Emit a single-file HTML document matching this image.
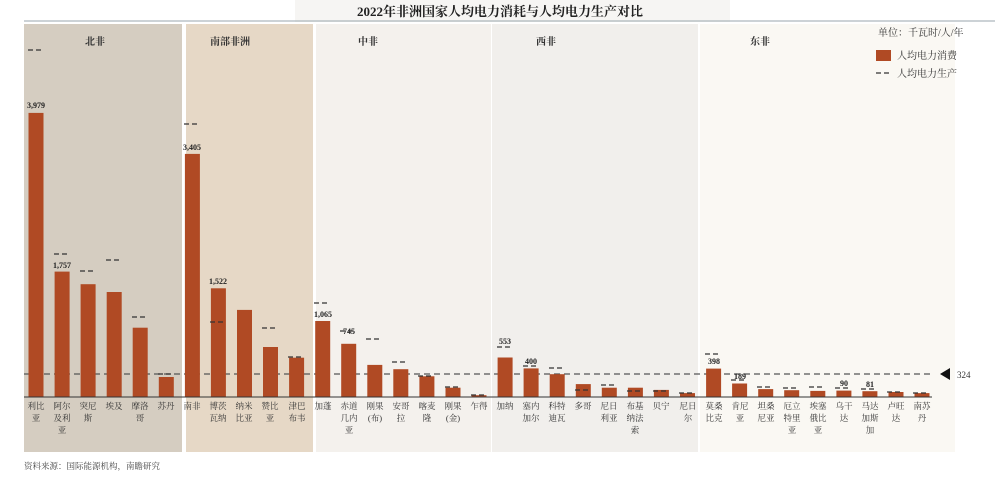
<!DOCTYPE html>
<html><head><meta charset="utf-8"><style>
body{margin:0;background:#fff;width:1000px;height:473px;overflow:hidden}
svg text{font-family:"Liberation Serif","Noto Serif CJK SC",serif}
</style></head><body>
<svg width="1000" height="473" viewBox="0 0 1000 473" xmlns="http://www.w3.org/2000/svg">
<rect x="0" y="0" width="1000" height="473" fill="#fff"/>
<rect x="295" y="0" width="435" height="22" fill="#f6f5f3"/>
<text x="500" y="16" font-size="13" font-weight="bold" text-anchor="middle" fill="#222">2022年非洲国家人均电力消耗与人均电力生产对比</text>
<line x1="24" y1="21" x2="995" y2="21" stroke="#9aa6ad" stroke-width="1"/>
<!-- panels -->
<rect x="24" y="24" width="158" height="428" fill="#d5cdc1"/>
<rect x="186" y="24" width="127" height="428" fill="#e6d8c6"/>
<rect x="316" y="24" width="175" height="428" fill="#f4f1ed"/>
<rect x="492" y="24" width="206" height="428" fill="#f1efec"/>
<rect x="700" y="24" width="255" height="428" fill="#faf8f3"/>
<g font-size="10" font-weight="bold" fill="#333" text-anchor="middle">
<text x="95" y="45">北非</text><text x="230" y="45">南部非洲</text><text x="368" y="45">中非</text><text x="546" y="45">西非</text><text x="760" y="45">东非</text>
</g>
<text x="878" y="36" font-size="10" fill="#333">单位：千瓦时/人/年</text>
<rect x="876" y="50" width="15" height="11" fill="#b04a24"/>
<text x="897" y="59" font-size="10" fill="#333">人均电力消费</text>
<line x1="876" y1="73" x2="892" y2="73" stroke="#333" stroke-width="1.2" stroke-dasharray="5,3"/>
<text x="897" y="77" font-size="10" fill="#333">人均电力生产</text>
<!-- ref line -->
<line x1="24" y1="374" x2="930" y2="374" stroke="#555" stroke-width="1.2" stroke-dasharray="6,4"/>
<polygon points="940,374 950,368 950,380" fill="#111"/>
<text x="957" y="378" font-size="9" fill="#333">324</text>
<!-- bars -->
<g fill="#b04a24">
<rect x="28.5" y="112.9" width="15" height="284.1"/>
<rect x="54.6" y="271.6" width="15" height="125.4"/>
<rect x="80.6" y="284.2" width="15" height="112.8"/>
<rect x="106.7" y="292" width="15" height="105"/>
<rect x="132.7" y="327.7" width="15" height="69.3"/>
<rect x="158.8" y="377" width="15" height="20"/>
<rect x="184.9" y="153.9" width="15" height="243.1"/>
<rect x="210.9" y="288.3" width="15" height="108.7"/>
<rect x="237" y="309.9" width="15" height="87.1"/>
<rect x="263" y="347" width="15" height="50"/>
<rect x="289.1" y="357.7" width="15" height="39.3"/>
<rect x="315.2" y="321" width="15" height="76"/>
<rect x="341.2" y="343.8" width="15" height="53.2"/>
<rect x="367.3" y="364.9" width="15" height="32.1"/>
<rect x="393.3" y="369.2" width="15" height="27.8"/>
<rect x="419.4" y="376.3" width="15" height="20.7"/>
<rect x="445.5" y="387.7" width="15" height="9.3"/>
<rect x="471.5" y="395.2" width="15" height="1.8"/>
<rect x="497.6" y="357.5" width="15" height="39.5"/>
<rect x="523.6" y="368.4" width="15" height="28.6"/>
<rect x="549.7" y="374.2" width="15" height="22.8"/>
<rect x="575.8" y="384.1" width="15" height="12.9"/>
<rect x="601.8" y="387.7" width="15" height="9.3"/>
<rect x="627.9" y="387.7" width="15" height="9.3"/>
<rect x="653.9" y="389.9" width="15" height="7.1"/>
<rect x="680" y="393.1" width="15" height="3.9"/>
<rect x="706.1" y="368.6" width="15" height="28.4"/>
<rect x="732.1" y="383.5" width="15" height="13.5"/>
<rect x="758.2" y="389.1" width="15" height="7.9"/>
<rect x="784.2" y="390.2" width="15" height="6.8"/>
<rect x="810.3" y="390.9" width="15" height="6.1"/>
<rect x="836.4" y="390.6" width="15" height="6.4"/>
<rect x="862.4" y="391.2" width="15" height="5.8"/>
<rect x="888.5" y="392" width="15" height="5"/>
<rect x="914.5" y="393.1" width="15" height="3.9"/>
</g>
<!-- production dashes -->
<g stroke="#333" stroke-width="1.2" stroke-dasharray="5,3">
<line x1="28" y1="50" x2="44" y2="50"/>
<line x1="54" y1="254" x2="70" y2="254"/>
<line x1="80" y1="271" x2="96" y2="271"/>
<line x1="106" y1="260" x2="122" y2="260"/>
<line x1="132" y1="317" x2="148" y2="317"/>
<line x1="158" y1="374" x2="174" y2="374"/>
<line x1="184" y1="124" x2="200" y2="124"/>
<line x1="210" y1="322" x2="226" y2="322"/>
<line x1="262" y1="328" x2="278" y2="328"/>
<line x1="288" y1="357" x2="304" y2="357"/>
<line x1="314" y1="303" x2="330" y2="303"/>
<line x1="340" y1="331" x2="356" y2="331"/>
<line x1="366" y1="339" x2="382" y2="339"/>
<line x1="392" y1="362" x2="408" y2="362"/>
<line x1="418" y1="376" x2="434" y2="376"/>
<line x1="445" y1="387" x2="461" y2="387"/>
<line x1="471" y1="395" x2="487" y2="395"/>
<line x1="497" y1="347" x2="513" y2="347"/>
<line x1="523" y1="366" x2="539" y2="366"/>
<line x1="549" y1="368" x2="565" y2="368"/>
<line x1="575" y1="390" x2="591" y2="390"/>
<line x1="601" y1="385" x2="617" y2="385"/>
<line x1="627" y1="391" x2="643" y2="391"/>
<line x1="653" y1="391" x2="669" y2="391"/>
<line x1="679" y1="393" x2="695" y2="393"/>
<line x1="705" y1="354" x2="721" y2="354"/>
<line x1="731" y1="380" x2="747" y2="380"/>
<line x1="757" y1="387" x2="773" y2="387"/>
<line x1="783" y1="388" x2="799" y2="388"/>
<line x1="809" y1="387" x2="825" y2="387"/>
<line x1="835" y1="388" x2="851" y2="388"/>
<line x1="861" y1="389" x2="877" y2="389"/>
<line x1="887" y1="392" x2="903" y2="392"/>
<line x1="913" y1="393" x2="929" y2="393"/>
</g>
<!-- value labels -->
<g font-size="8" font-weight="bold" fill="#222" text-anchor="middle" font-family="Liberation Sans,sans-serif">
<text x="36" y="108">3,979</text>
<text x="62" y="268">1,757</text>
<text x="192" y="150">3,405</text>
<text x="218" y="284">1,522</text>
<text x="323" y="317">1,065</text>
<text x="349" y="334">745</text>
<text x="505" y="344">553</text>
<text x="531" y="364">400</text>
<text x="714" y="364">398</text>
<text x="740" y="379">189</text>
<text x="844" y="386">90</text>
<text x="870" y="387">81</text>
</g>
<line x1="24" y1="397" x2="932" y2="397" stroke="#333" stroke-width="1"/>
<!-- x labels -->
<g font-size="8.5" fill="#333" text-anchor="middle">
<text x="36" y="409">利比</text><text x="36" y="421">亚</text>
<text x="62" y="409">阿尔</text><text x="62" y="421">及利</text><text x="62" y="433">亚</text>
<text x="88" y="409">突尼</text><text x="88" y="421">斯</text>
<text x="114" y="409">埃及</text>
<text x="140" y="409">摩洛</text><text x="140" y="421">哥</text>
<text x="166" y="409">苏丹</text>
<text x="192" y="409">南非</text>
<text x="218" y="409">博茨</text><text x="218" y="421">瓦纳</text>
<text x="244" y="409">纳米</text><text x="244" y="421">比亚</text>
<text x="270" y="409">赞比</text><text x="270" y="421">亚</text>
<text x="297" y="409">津巴</text><text x="297" y="421">布韦</text>
<text x="323" y="409">加蓬</text>
<text x="349" y="409">赤道</text><text x="349" y="421">几内</text><text x="349" y="433">亚</text>
<text x="375" y="409">刚果</text><text x="375" y="421">(布)</text>
<text x="401" y="409">安哥</text><text x="401" y="421">拉</text>
<text x="427" y="409">喀麦</text><text x="427" y="421">隆</text>
<text x="453" y="409">刚果</text><text x="453" y="421">(金)</text>
<text x="479" y="409">乍得</text>
<text x="505" y="409">加纳</text>
<text x="531" y="409">塞内</text><text x="531" y="421">加尔</text>
<text x="557" y="409">科特</text><text x="557" y="421">迪瓦</text>
<text x="583" y="409">多哥</text>
<text x="609" y="409">尼日</text><text x="609" y="421">利亚</text>
<text x="635" y="409">布基</text><text x="635" y="421">纳法</text><text x="635" y="433">索</text>
<text x="661" y="409">贝宁</text>
<text x="688" y="409">尼日</text><text x="688" y="421">尔</text>
<text x="714" y="409">莫桑</text><text x="714" y="421">比克</text>
<text x="740" y="409">肯尼</text><text x="740" y="421">亚</text>
<text x="766" y="409">坦桑</text><text x="766" y="421">尼亚</text>
<text x="792" y="409">厄立</text><text x="792" y="421">特里</text><text x="792" y="433">亚</text>
<text x="818" y="409">埃塞</text><text x="818" y="421">俄比</text><text x="818" y="433">亚</text>
<text x="844" y="409">乌干</text><text x="844" y="421">达</text>
<text x="870" y="409">马达</text><text x="870" y="421">加斯</text><text x="870" y="433">加</text>
<text x="896" y="409">卢旺</text><text x="896" y="421">达</text>
<text x="922" y="409">南苏</text><text x="922" y="421">丹</text>
</g>
<text x="24" y="469" font-size="8.5" fill="#444">资料来源：国际能源机构，南瞻研究</text>
</svg>
</body></html>
